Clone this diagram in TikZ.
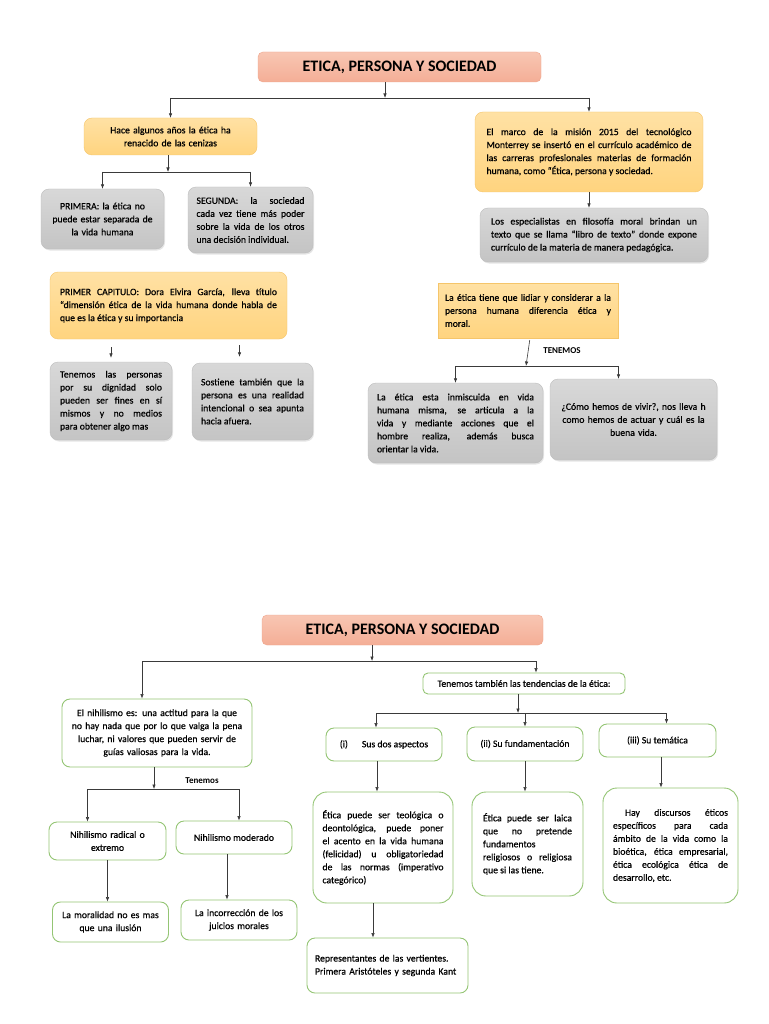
\documentclass[tikz,border=0pt]{standalone}
\usepackage{fontspec}
\setmainfont{Carlito}
\newfontfamily\carlitodenso{Carlito}[FakeBold=0.5]
\usetikzlibrary{positioning, arrows.meta, shadows}

\definecolor{salmon}{HTML}{F4AE96}
\definecolor{salmonclaro}{HTML}{F8C6B3}
\definecolor{salmonborde}{HTML}{EFA58C}
\definecolor{naranja}{HTML}{FFD47F}
\definecolor{naranjaclaro}{HTML}{FFE1A4}
\definecolor{naranjaborde}{HTML}{F5C56A}
\definecolor{gris}{HTML}{C4C4C4}
\definecolor{grisclaro}{HTML}{D8D8D8}
\definecolor{grisborde}{HTML}{BDBDBD}
\definecolor{verdeborde}{HTML}{94C574}
\definecolor{trazo}{HTML}{3A3A3A}

\newcommand{\cuerpo}{\carlitodenso\fontsize{9.7}{13}\selectfont}

\begin{document}
\begin{tikzpicture}[
    x=1pt, y=-1pt,
    box/.style={rectangle, rounded corners=8pt, inner xsep=4pt, inner ysep=3pt, font=\cuerpo},
    titulo/.style={box, rounded corners=5pt, draw=salmonborde, top color=salmonclaro, bottom color=salmon, font=\fontsize{16}{19}\selectfont\bfseries},
    naranja/.style={box, draw=naranjaborde, top color=naranjaclaro, bottom color=naranja},
    gris/.style={box, draw=grisborde, top color=grisclaro, bottom color=gris, drop shadow={opacity=0.2, shadow xshift=1pt, shadow yshift=-1.5pt}},
    verde/.style={box, draw=verdeborde, line width=0.9pt, fill=white},
    flecha/.style={draw=trazo, line width=0.6pt, -{Latex[length=4.5pt, width=3.5pt]}},
    linea/.style={draw=trazo, line width=0.6pt},
    rotulo/.style={font=\fontsize{9}{11}\selectfont\bfseries, inner sep=1pt},
]

% Background
\useasboundingbox (0,0) rectangle (768,1024);
\fill[white] (0,0) rectangle (768,1024);

% Nodes (first map)
\node [titulo, minimum width=283, minimum height=30] (titulo1) at (399.5,67) {ETICA, PERSONA Y SOCIEDAD};
\node [naranja, minimum width=173, minimum height=37, text width=160, align=center] (renacido) at (170.5,136.5) {Hace algunos años la ética ha\\renacido de las cenizas};
\node [gris, minimum width=123, minimum height=60, text width=112, align=center] (primera) at (102.5,219) {PRIMERA:\ la ética no\\puede estar separada de\\la vida humana};
\node [gris, minimum width=125, minimum height=66, text width=108, align=justify] (segunda) at (250.5,220) {SEGUNDA:\ la sociedad\linebreak cada vez tiene más poder\linebreak sobre la vida de los otros\linebreak una decisión individual.};
\node [naranja, minimum width=228, minimum height=80, text width=205, align=justify] (marco) at (589,152) {El marco de la misión 2015 del tecnológico\linebreak Monterrey se insertó en el currículo académico de\linebreak las carreras profesionales materias de formación\linebreak humana, como “Ética, persona y sociedad.};
\node [gris, minimum width=228, minimum height=54, text width=206, align=justify] (especialistas) at (594,235) {Los especialistas en filosofía moral brindan un\linebreak texto que se llama “libro de texto” donde expone\linebreak currículo de la materia de manera pedagógica.};
\node [naranja, minimum width=237, minimum height=67, text width=217, align=justify] (capitulo) at (168.5,305.5) {PRIMER CAPITULO: Dora Elvira García, lleva título\linebreak “dimensión ética de la vida humana donde habla de\linebreak que es la ética y su importancia};
\node [gris, minimum width=122, minimum height=78, text width=102, align=justify] (dignidad) at (111,401) {Tenemos las personas\linebreak por su dignidad solo\linebreak pueden ser fines en sí\linebreak mismos y no medios\linebreak para obtener algo mas};
\node [gris, minimum width=121, minimum height=77, text width=103, align=justify] (sostiene) at (252.5,401.5) {Sostiene también que la\linebreak persona es una realidad\linebreak intencional o sea apunta\linebreak hacia afuera.};
\node [naranja, rounded corners=0pt, minimum width=180, minimum height=55, text width=166, align=justify] (lidiar) at (528,310.5) {La ética tiene que lidiar y considerar a la\linebreak persona humana diferencia ética y\linebreak moral.};
\node [gris, minimum width=175, minimum height=80, text width=157, align=justify] (inmiscuida) at (455.5,423) {La ética esta inmiscuida en vida\linebreak humana misma, se articula a la\linebreak vida y mediante acciones que el\linebreak hombre realiza, además busca\linebreak orientar la vida.};
\node [gris, minimum width=167, minimum height=81, text width=150, align=center] (vivir) at (633.5,419.5) {¿Cómo hemos de vivir?, nos lleva h\\como hemos de actuar y cuál es la\\buena vida.};
\node [rotulo] (tenemos1) at (562,351) {TENEMOS};

% Nodes (second map)
\node [titulo, minimum width=281, minimum height=30] (titulo2) at (402.5,630) {ETICA, PERSONA Y SOCIEDAD};
\node [verde, rounded corners=5pt, minimum width=202, minimum height=21] (tendencias) at (524,683.5) {Tenemos también las tendencias de la ética:};
\node [verde, minimum width=116, minimum height=33] (aspectos) at (384,744.5) {(i)\hspace{14pt}Sus dos aspectos};
\node [verde, minimum width=116, minimum height=34] (fundamentacion) at (525,744) {(ii) Su fundamentación};
\node [verde, minimum width=117, minimum height=33] (tematica) at (657.5,740.5) {(iii) Su temática};
\node [verde, minimum width=190, minimum height=68, text width=180, align=center] (nihilismo) at (157,733) {El nihilismo es: una actitud para la que\\no hay nada que por lo que valga la pena\\luchar, ni valores que pueden servir de\\guías valiosas para la vida.};
\node [verde, minimum width=117, minimum height=38, text width=108, align=center] (radical) at (107.5,841) {Nihilismo radical o\\extremo};
\node [verde, minimum width=116, minimum height=33] (moderado) at (234,837.5) {Nihilismo moderado};
\node [verde, minimum width=115, minimum height=40, text width=108, align=center] (ilusion) at (110.5,922) {La moralidad no es mas\\que una ilusión};
\node [verde, minimum width=116, minimum height=40, text width=108, align=center] (incorreccion) at (239,920) {La incorrección de los\\juicios morales};
\node [verde, rounded corners=14pt, minimum width=140, minimum height=111, text width=121, align=justify] (teologica) at (383,847.5) {Ética puede ser teológica o\linebreak deontológica, puede poner\linebreak el acento en la vida humana\linebreak (felicidad) u obligatoriedad\linebreak de las normas (imperativo\linebreak categórico)};
\node [verde, rounded corners=14pt, minimum width=111, minimum height=104, text width=89, align=justify] (laica) at (527.5,844) {Ética puede ser laica\linebreak que no pretende\linebreak fundamentos\\religiosos o religiosa\linebreak que si las tiene.};
\node [verde, rounded corners=14pt, minimum width=135, minimum height=115, text width=115, align=justify] (discursos) at (670.5,845.5) {\hspace*{12pt}Hay discursos éticos\linebreak específicos para cada\linebreak ámbito de la vida como la\linebreak bioética, ética empresarial,\linebreak ética ecológica ética de\linebreak desarrollo, etc.};
\node [verde, minimum width=161, minimum height=55, text width=145, align=left] (representantes) at (387.5,965.5) {Representantes de las vertientes.\\Primera Aristóteles y segunda Kant};
\node [rotulo] (tenemos2) at (202,781) {Tenemos};

% Lines (first map)
\coordinate (b1) at (385,98);
\draw [flecha] (titulo1.south -| b1) -- (b1);
\draw [linea] (renacido.north |- b1) -- (marco.north |- b1);
\draw [flecha] (renacido.north |- b1) -- (renacido.north);
\draw [flecha] (marco.north |- b1) -- (marco.north);

\coordinate (b2) at (168,172);
\draw [flecha] (renacido.south -| b2) -- (b2);
\draw [linea] (primera.north |- b2) -- (segunda.north |- b2);
\draw [flecha] (primera.north |- b2) -- (primera.north);
\draw [flecha] (segunda.north |- b2) -- (segunda.north);

\draw [flecha] (marco.south) -- (marco.south |- especialistas.north);

\draw [flecha, shorten <=8pt, shorten >=4pt] (dignidad.north |- capitulo.south) -- (dignidad.north);
\draw [flecha, shorten <=6pt, shorten >=6pt] ([xshift=-13pt]sostiene.north |- capitulo.south) -- ([xshift=-13pt]sostiene.north);

\coordinate (b4) at (526,366);
\draw [flecha, shorten <=2pt] ([xshift=2pt]lidiar.south) -- (b4);
\draw [linea] (inmiscuida.north |- b4) -- ([xshift=-15pt]vivir.north |- b4);
\draw [flecha] (inmiscuida.north |- b4) -- (inmiscuida.north);
\draw [flecha] ([xshift=-15pt]vivir.north |- b4) -- ([xshift=-15pt]vivir.north);

% Lines (second map)
\coordinate (b5) at (372,661);
\draw [flecha] (titulo2.south -| b5) -- (b5);
\draw [linea] ([xshift=-15pt]nihilismo.north |- b5) -- ([xshift=12pt]tendencias.north |- b5);
\draw [flecha] ([xshift=-15pt]nihilismo.north |- b5) -- ([xshift=-15pt]nihilismo.north);
\draw [flecha] ([xshift=12pt]tendencias.north |- b5) -- ([xshift=12pt]tendencias.north);

\coordinate (b6) at (518,713);
\draw [flecha] (tendencias.south -| b6) -- (b6);
\draw [linea] ([xshift=-8pt]aspectos.north |- b6) -- ([xshift=9pt]tematica.north |- b6);
\draw [flecha] ([xshift=-8pt]aspectos.north |- b6) -- ([xshift=-8pt]aspectos.north);
\draw [flecha] (fundamentacion.north |- b6) -- (fundamentacion.north);
\draw [flecha] ([xshift=9pt]tematica.north |- b6) -- ([xshift=9pt]tematica.north);

\draw [flecha] ([xshift=-7pt]aspectos.south) -- ([xshift=-7pt]aspectos.south |- teologica.north);
\draw [flecha] (fundamentacion.south) -- (fundamentacion.south |- laica.north);
\draw [flecha] ([xshift=3.5pt]tematica.south) -- ([xshift=3.5pt]tematica.south |- discursos.north);
\draw [flecha] ([xshift=-10pt]teologica.south) -- ([xshift=-10pt]teologica.south |- representantes.north);

\coordinate (b7) at (154,789);
\draw [flecha] (nihilismo.south -| b7) -- (b7);
\draw [linea] ([xshift=-20pt]radical.north |- b7) -- ([xshift=5pt]moderado.north |- b7);
\draw [flecha] ([xshift=-20pt]radical.north |- b7) -- ([xshift=-20pt]radical.north);
\draw [flecha] ([xshift=5pt]moderado.north |- b7) -- ([xshift=5pt]moderado.north);
\draw [flecha] (radical.south) -- (radical.south |- ilusion.north);
\draw [flecha] ([xshift=-7pt]moderado.south) -- ([xshift=-7pt]moderado.south |- incorreccion.north);

\end{tikzpicture}
\end{document}
